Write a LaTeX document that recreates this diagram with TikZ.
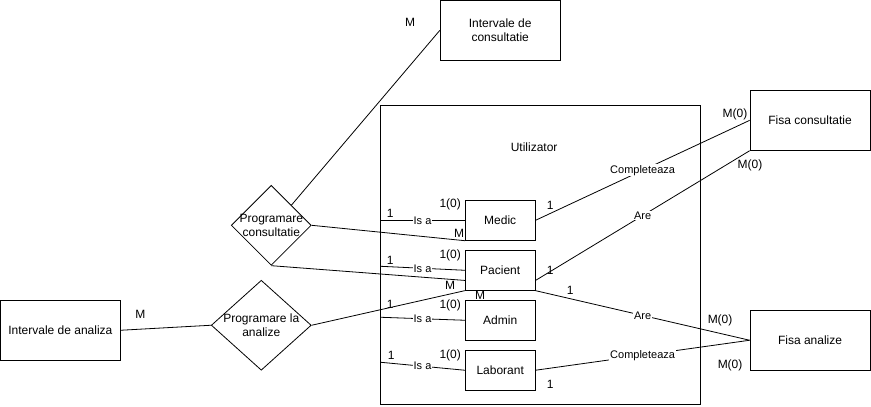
\documentclass[tikz,border=0pt]{standalone}
\usepackage{fontspec}
\setmainfont{Liberation Sans}
\usetikzlibrary{shapes.geometric}
\begin{document}
\begin{tikzpicture}[
    x=1pt, y=-1pt, line width=0.8pt,
    every node/.style={font=\fontsize{12}{14}\selectfont, inner sep=0pt},
    entity/.style={draw, align=center, minimum width=120pt, minimum height=60pt},
    subent/.style={draw, minimum width=70pt, minimum height=40pt},
    rel/.style={draw, diamond, minimum width=#1pt, minimum height=80pt},
    edgelbl/.style={fill=white, inner sep=1pt, font=\fontsize{11}{13}\selectfont}
]
    \fill[white] (0,0) rectangle (871,406);
    \node[draw, minimum width=320pt, minimum height=299pt] (utilizator) at (540,254.5) {};
    \node (utilTitle) at (534,147) {Utilizator};
    \node[entity] (intervC) at (500,30) {Intervale de\\consultatie};
    \node[entity] (intervA) at (60,330) {Intervale de analiza};
    \node[entity] (fisaC) at (810,120) {Fisa consultatie};
    \node[entity] (fisaA) at (810,340) {Fisa analize};
    \node[subent] (medic) at (500,220) {Medic};
    \node[subent] (pacient) at (500,270) {Pacient};
    \node[subent] (admin) at (500,320) {Admin};
    \node[subent] (laborant) at (500,370) {Laborant};
    \node[rel=80, label={[align=center]center:Programare\\consultatie}] (progC) at (271,225) {};
    \node[rel=100, minimum height=90pt, label={[align=center]center:Programare la\\analize}] (progA) at (261,325) {};
    \coordinate (uMedic) at (380,220);
    \coordinate (uPacient) at (380,266);
    \coordinate (uAdmin) at (380,317);
    \coordinate (uLaborant) at (380,362);
    \draw (uMedic) -- node[edgelbl] (isaMedic) {Is a} (medic.west);
    \draw (uPacient) -- node[edgelbl] (isaPacient) {Is a} (pacient.west);
    \draw (uAdmin) -- node[edgelbl] (isaAdmin) {Is a} (admin.west);
    \draw (uLaborant) -- node[edgelbl] (isaLaborant) {Is a} (laborant.west);
    \draw (intervA.east) -- (progA.west);
    \draw (progC.north east) -- (intervC.west);
    \draw (progC.east) -- (medic.south west);
    \draw (progC.south) -- (pacient.196);
    \draw (progA.east) -- (pacient.south west);
    \draw (medic.east) -- node[edgelbl] (complC) {Completeaza} (fisaC.west);
    \draw (pacient.-16) -- node[edgelbl] (areC) {Are} (fisaC.south west);
    \draw (pacient.south east) -- node[edgelbl] (areA) {Are} (fisaA.west);
    \draw (laborant.east) -- node[edgelbl] (complA) {Completeaza} (fisaA.west);
    \node (mIntC) at (410,22) {M};
    \node (mMedC) at (459,233) {M};
    \node (mPacC) at (450,285) {M};
    \node (mPacA) at (480,295) {M};
    \node (mIntA) at (140,314) {M};
    \node (uMedicOne) at (390,213) {1};
    \node (uPacientOne) at (390,260) {1};
    \node (uAdminOne) at (390,304) {1};
    \node (uLaborantOne) at (391,355) {1};
    \node (medicZero) at (450,204) {1(0)};
    \node (pacientZero) at (450,255) {1(0)};
    \node (adminZero) at (450,305) {1(0)};
    \node (laborantZero) at (450,355) {1(0)};
    \node (medicOne) at (550,205) {1};
    \node (fisaCmTop) at (735,114) {M(0)};
    \node (pacientOneC) at (550,270) {1};
    \node (fisaCmBot) at (750,165) {M(0)};
    \node (pacientOneA) at (570,290) {1};
    \node (fisaAmTop) at (720,320) {M(0)};
    \node (fisaAmBot) at (730,365) {M(0)};
    \node (laborantOne) at (550,384) {1};
\end{tikzpicture}
\end{document}
